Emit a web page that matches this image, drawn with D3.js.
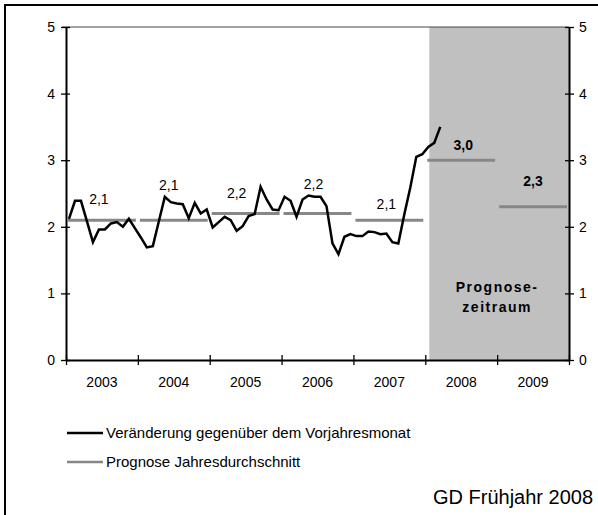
<!DOCTYPE html>
<html>
<head>
<meta charset="utf-8">
<script src="https://cdn.jsdelivr.net/npm/d3@7"></script>
<style>
  body { margin: 0; background: #fff; }
  text { font-family: "Liberation Sans", Arial, sans-serif; }
</style>
</head>
<body>
<script>
// Verbraucherpreise, Veränderung gegenüber Vorjahresmonat in %
const years = ["2003", "2004", "2005", "2006", "2007", "2008", "2009"];

// monatlich, Jan 2003 bis Mär 2008
const monthly = [
  2.12, 2.39, 2.39, 2.08, 1.77, 1.96, 1.96, 2.05, 2.07, 2.00, 2.12, 1.98,
  1.84, 1.69, 1.71, 2.08, 2.45, 2.37, 2.35, 2.34, 2.13, 2.36, 2.20, 2.26,
  1.99, 2.07, 2.15, 2.10, 1.94, 2.01, 2.16, 2.19, 2.60, 2.41, 2.26, 2.25,
  2.45, 2.39, 2.15, 2.41, 2.47, 2.45, 2.45, 2.31, 1.75, 1.59, 1.85, 1.89,
  1.86, 1.86, 1.93, 1.92, 1.89, 1.90, 1.77, 1.75, 2.19, 2.59, 3.05, 3.09,
  3.20, 3.26, 3.50
];

// Jahresdurchschnitt (2008, 2009 = Prognose)
const averages = [2.1, 2.1, 2.2, 2.2, 2.1, 3.0, 2.3];
const avgLabels = ["2,1", "2,1", "2,2", "2,2", "2,1", "3,0", "2,3"];
const forecastYears = ["2008", "2009"];

const yTicks = [0, 1, 2, 3, 4, 5];

// Lage der Beschriftungen relativ zur Linie (dx, dy)
const labelOffset = [[-3, -16], [-5, -30], [-9, -15], [-4, -24], [-3, -11], [2, -10], [0, -21]];

const W = 598, H = 515;
const svg = d3.select("body").append("svg")
  .attr("width", W)
  .attr("height", H);

// Rahmen
svg.append("rect")
  .attr("x", 5).attr("y", 5)
  .attr("width", 620).attr("height", 540)
  .attr("fill", "none")
  .attr("stroke", "#000")
  .attr("stroke-width", 2);

const x0 = 66, x1 = 569, yTop = 27, yBot = 360;
const nMonths = years.length * 12;

const x = d3.scaleLinear().domain([0, nMonths]).range([x0, x1]);
const xYear = d3.scaleBand().domain(years).range([x0, x1]);
const y = d3.scaleLinear().domain([0, 5]).range([yBot, yTop]);

// Prognosezeitraum
const fStart = years.indexOf(forecastYears[0]);
svg.append("rect")
  .attr("x", xYear(forecastYears[0]) + 4)
  .attr("y", y(5))
  .attr("width", xYear(forecastYears[1]) + xYear.bandwidth() - xYear(forecastYears[0]) - 4)
  .attr("height", y(0) - y(5))
  .attr("fill", "#c0c0c0");

["Prognose-", "zeitraum"].forEach((t, i) => {
  svg.append("text")
    .attr("x", xYear(forecastYears[0]) + xYear.bandwidth())
    .attr("y", 292 + i * 20)
    .attr("text-anchor", "middle")
    .attr("font-size", 14)
    .attr("font-weight", "bold")
    .attr("letter-spacing", 1.5)
    .text(t);
});

// obere Begrenzung
svg.append("line")
  .attr("x1", x0 - 4).attr("x2", x1)
  .attr("y1", y(5)).attr("y2", y(5))
  .attr("stroke", "#444")
  .attr("stroke-width", 1);

// Jahresdurchschnitte
const avgG = svg.append("g");
averages.forEach((v, k) => {
  avgG.append("line")
    .attr("x1", x(k * 12 + 0.5) - 1)
    .attr("x2", x(k * 12 + 11.5) + 1)
    .attr("y1", y(v)).attr("y2", y(v))
    .attr("stroke", "#878787")
    .attr("stroke-width", 3);
  const bold = k >= fStart;
  avgG.append("text")
    .attr("x", xYear(years[k]) + xYear.bandwidth() / 2 + labelOffset[k][0])
    .attr("y", y(v) + labelOffset[k][1])
    .attr("text-anchor", "middle")
    .attr("font-size", 14)
    .attr("font-weight", bold ? "bold" : "normal")
    .text(avgLabels[k]);
});

// Monatswerte
const line = d3.line()
  .x((d, i) => x(i + 0.5))
  .y(d => y(d));
svg.append("path")
  .datum(monthly)
  .attr("d", line)
  .attr("fill", "none")
  .attr("stroke", "#000")
  .attr("stroke-width", 2.5)
  .attr("stroke-linejoin", "miter");

// Achsen
const fmt = d3.format("d");
const axisLeft = svg.append("g")
  .attr("transform", `translate(${x0},0)`)
  .call(d3.axisLeft(y).tickValues(yTicks).tickFormat(fmt).tickSize(5).tickSizeOuter(0).tickPadding(6));
axisLeft.selectAll(".tick line").attr("x1", 4);

const axisRight = svg.append("g")
  .attr("transform", `translate(${x1},0)`)
  .call(d3.axisRight(y).tickValues(yTicks).tickFormat(fmt).tickSize(5).tickSizeOuter(0).tickPadding(5));
axisRight.selectAll(".tick line").attr("x1", -4);

const axisBottom = svg.append("g")
  .attr("transform", `translate(0,${yBot})`)
  .call(d3.axisBottom(x).tickValues(d3.range(0, nMonths + 1, 12)).tickSize(5).tickSizeOuter(0).tickFormat(""));
axisBottom.selectAll(".tick line").attr("y1", -5);

const yearLabels = svg.append("g")
  .attr("transform", `translate(0,${yBot})`)
  .call(d3.axisBottom(xYear).tickSize(0).tickPadding(17));
yearLabels.select(".domain").remove();

[axisLeft, axisRight, axisBottom].forEach(g => {
  g.select(".domain").attr("stroke", "#000").attr("stroke-width", 2);
  g.selectAll(".tick line").attr("stroke", "#000").attr("stroke-width", 1.3);
});
svg.selectAll(".tick text")
  .attr("font-family", "'Liberation Sans', Arial, sans-serif")
  .attr("font-size", 14)
  .attr("fill", "#000");

// Legende
const legend = [
  { name: "Veränderung gegenüber dem Vorjahresmonat", color: "#000", yy: 433 },
  { name: "Prognose Jahresdurchschnitt", color: "#878787", yy: 462 }
];
legend.forEach(d => {
  svg.append("line")
    .attr("x1", 67).attr("x2", 103)
    .attr("y1", d.yy).attr("y2", d.yy)
    .attr("stroke", d.color)
    .attr("stroke-width", 2.5);
  svg.append("text")
    .attr("x", 106)
    .attr("y", d.yy + 5)
    .attr("font-size", 15)
    .text(d.name);
});

svg.append("text")
  .attr("x", 433)
  .attr("y", 504)
  .attr("font-size", 20)
  .text("GD Frühjahr 2008");
</script>
</body>
</html>
